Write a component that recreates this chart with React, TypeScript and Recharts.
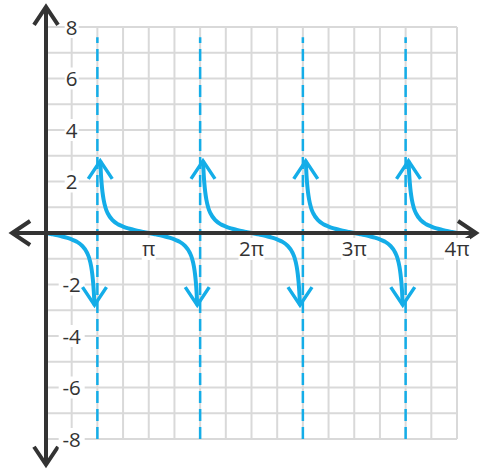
import { LineChart, Line, XAxis, YAxis, CartesianGrid, ReferenceLine, ReferenceDot } from "recharts";

// x values are in multiples of π
const crossings = [0, 1, 2, 3, 4];
// one period around each crossing: offset (× π) and y value
const offsets = [
  -0.472, -0.465, -0.458, -0.45, -0.44, -0.42, -0.4, -0.35, -0.3, -0.25, -0.2, -0.15, -0.1, -0.05, 0,
  0.05, 0.1, 0.15, 0.2, 0.25, 0.3, 0.35, 0.4, 0.42, 0.44, 0.45, 0.458, 0.465, 0.472,
];
const values = [
  2.8, 2.26, 1.89, 1.58, 1.31, 0.97, 0.77, 0.49, 0.34, 0.25, 0.18, 0.13, 0.08, 0.04, 0,
  -0.04, -0.08, -0.13, -0.18, -0.25, -0.34, -0.49, -0.77, -0.97, -1.31, -1.58, -1.89, -2.26, -2.8,
];
const asymptotes = [0.5, 1.5, 2.5, 3.5];

const xLabelValues = [1, 2, 3, 4];
const xLabels = ["π", "2π", "3π", "4π"];
const yLabelValues = [-8, -6, -4, -2, 2, 4, 6, 8];

const gridX = [0, 0.25, 0.5, 0.75, 1, 1.25, 1.5, 1.75, 2, 2.25, 2.5, 2.75, 3, 3.25, 3.5, 3.75, 4];
const gridY = [-8, -7, -6, -5, -4, -3, -2, -1, 0, 1, 2, 3, 4, 5, 6, 7, 8];

const BLUE = "#14ade8";
const INK = "#333333";
const FONT = "'Open Sans', sans-serif";

const branches = crossings.map((c) =>
  offsets
    .map((o, i) => ({ x: c + o, y: values[i] }))
    .filter((p) => p.x >= 0 && p.x <= 4)
);

// branch ends that run into an asymptote get an arrow head
const arrowEnds = branches.flatMap((b) =>
  [b[0], b[b.length - 1]].filter((p) => Math.abs(p.y) > 2)
);

const chevron = (tx: number, ty: number, dx: number, dy: number, half: number, len: number) => {
  // arms point back from the tip along (-dx,-dy)
  const bx = tx - dx * len;
  const by = ty - dy * len;
  const px = -dy * half;
  const py = dx * half;
  return `M${bx + px},${by + py} L${tx},${ty} L${bx - px},${by - py}`;
};

const AxisShape = (props: any) => {
  const { x1, y1, x2, y2 } = props;
  const l = Math.hypot(x2 - x1, y2 - y1);
  const ux = (x2 - x1) / l;
  const uy = (y2 - y1) / l;
  return (
    <g stroke={INK} strokeWidth={4} fill="none" strokeLinejoin="miter">
      <line x1={x1} y1={y1} x2={x2} y2={y2} />
      <path d={chevron(x2, y2, ux, uy, 12, 18)} />
      <path d={chevron(x1, y1, -ux, -uy, 12, 18)} />
    </g>
  );
};

const TickLabel = (text: string) => (props: any) => {
  const { cx, cy } = props;
  const w = text.length * 12 + 2;
  return (
    <g>
      <rect x={cx - w / 2} y={cy - 11} width={w} height={22} fill="#ffffff" />
      <text x={cx} y={cy} dy={7.5} textAnchor="middle" fontSize={20.5} fontFamily={FONT} fill={INK}>
        {text}
      </text>
    </g>
  );
};

const ArrowHead = (up: boolean) => (props: any) => {
  const { cx, cy } = props;
  return (
    <path
      d={chevron(cx, cy, 0, up ? -1 : 1, 12, 18)}
      stroke={BLUE}
      strokeWidth={3.5}
      fill="none"
    />
  );
};

export default function App() {
  return (
    <div style={{ width: 480, height: 470, background: "#fff" }}>
      <style>{`body{margin:0}`}</style>
      <LineChart width={480} height={470} margin={{ top: 27, right: 23, bottom: 31, left: 46 }}>
        <XAxis type="number" dataKey="x" domain={[0, 4]} ticks={gridX} interval={0} hide />
        <YAxis type="number" dataKey="y" domain={[-8, 8]} ticks={gridY} interval={0} hide />
        <CartesianGrid stroke="#d9d9d9" strokeWidth={2} />

        {yLabelValues.map((v) => (
          <ReferenceDot key={`y${v}`} x={0.25} y={v} r={0} ifOverflow="visible" shape={TickLabel(String(v))} />
        ))}
        {xLabelValues.map((v, i) => (
          <ReferenceDot key={`x${v}`} x={v} y={-0.62} r={0} ifOverflow="visible" shape={TickLabel(xLabels[i])} />
        ))}

        {asymptotes.map((a) => (
          <ReferenceLine
            key={`a${a}`}
            segment={[{ x: a, y: -8 }, { x: a, y: 7.6 }]}
            stroke={BLUE}
            strokeWidth={2.5}
            strokeDasharray="12 6"
            ifOverflow="visible"
          />
        ))}

        {branches.map((b, i) => (
          <Line
            key={`b${i}`}
            data={b}
            dataKey="y"
            type="monotone"
            stroke={BLUE}
            strokeWidth={4}
            dot={false}
            activeDot={false}
            isAnimationActive={false}
          />
        ))}
        {arrowEnds.map((p, i) => (
          <ReferenceDot key={`h${i}`} x={p.x} y={p.y} r={0} ifOverflow="visible" shape={ArrowHead(p.y > 0)} />
        ))}

        <ReferenceLine
          segment={[{ x: 0, y: -9.0 }, { x: 0, y: 8.78 }]}
          ifOverflow="visible"
          shape={AxisShape}
        />
        <ReferenceLine
          segment={[{ x: -0.33, y: 0 }, { x: 4.185, y: 0 }]}
          ifOverflow="visible"
          shape={AxisShape}
        />
      </LineChart>
    </div>
  );
}
